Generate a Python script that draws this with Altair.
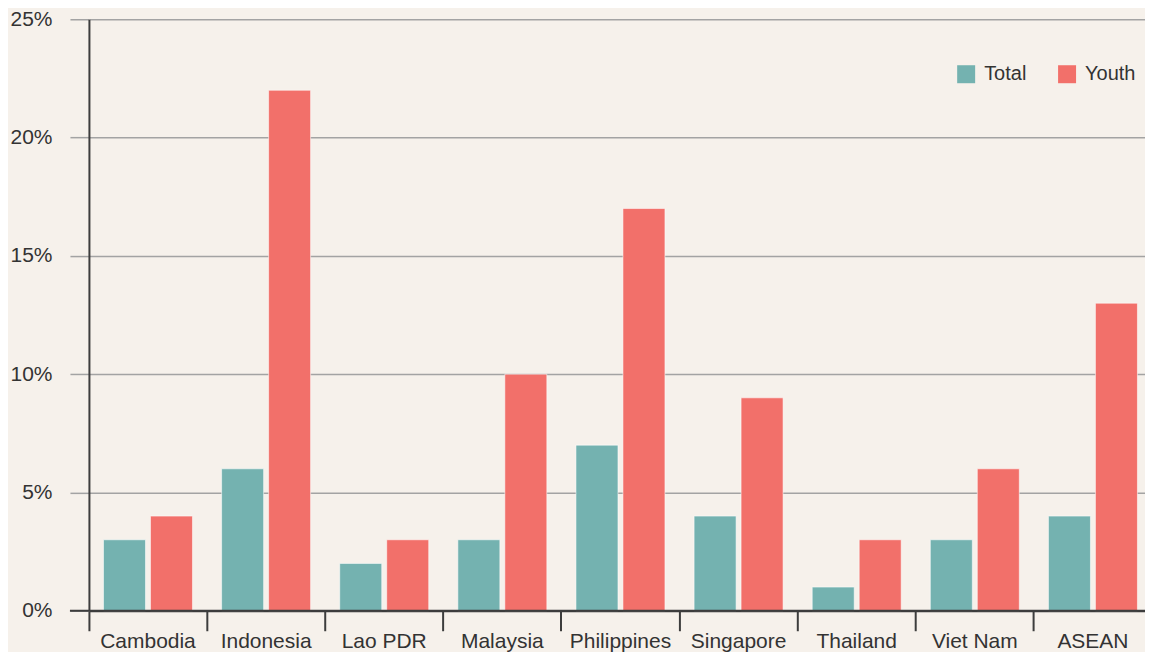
import altair as alt
import pandas as pd

countries = ["Cambodia", "Indonesia", "Lao PDR", "Malaysia", "Philippines",
             "Singapore", "Thailand", "Viet Nam", "ASEAN"]
total = [3, 6, 2, 3, 7, 4, 1, 3, 4]
youth = [4, 22, 3, 10, 17, 9, 3, 6, 13]
series = ["Total", "Youth"]
colors = ["#74b2b0", "#f2706a"]
y_ticks = [0, 5, 10, 15, 20, 25]

rows = []
for c, t, y in zip(countries, total, youth):
    rows.append({"country": c, "series": "Total", "value": t})
    rows.append({"country": c, "series": "Youth", "value": y})
df = pd.DataFrame(rows)

W, H = 1064, 592
FONT = "Liberation Sans"
FS = 21

bars = alt.Chart(df).mark_bar(
    stroke="#ffffff", strokeWidth=1, strokeOpacity=0.55
).encode(
    x=alt.X("country:N", sort=countries, title=None,
            scale=alt.Scale(paddingInner=0, paddingOuter=0),
            axis=alt.Axis(bandPosition=0, labelAngle=0, labelFontSize=FS,
                          labelColor="#333333", labelFont=FONT,
                          domainColor="#3d3d3d", domainWidth=2,
                          tickColor="#3d3d3d", tickWidth=2, tickSize=20,
                          labelPadding=0, grid=False)),
    xOffset=alt.XOffset("series:N", sort=series,
                        scale=alt.Scale(paddingInner=0.106, paddingOuter=0.31)),
    y=alt.Y("value:Q", title=None,
            scale=alt.Scale(domain=[0, 25], nice=False),
            axis=alt.Axis(values=y_ticks, labelExpr="datum.value + '%'",
                          labelFontSize=FS, labelColor="#333333", labelFont=FONT,
                          domainColor="#3d3d3d", domainWidth=2,
                          tickColor="#a3a3a3", tickWidth=1.5, tickSize=19,
                          labelPadding=18, gridColor="#a3a3a3", gridWidth=1.5)),
    color=alt.Color("series:N", sort=series,
                    scale=alt.Scale(domain=series, range=colors),
                    legend=alt.Legend(title=None, orient="none", direction="horizontal",
                                      legendX=868, legendY=45,
                                      symbolType="square", symbolSize=324,
                                      symbolStrokeWidth=0, symbolOpacity=1,
                                      labelFontSize=20, labelFont=FONT,
                                      labelColor="#333333", labelOffset=8,
                                      columnPadding=30)),
)

zero = alt.Chart(pd.DataFrame({"v": [0]})).mark_rule(
    color="#3d3d3d", strokeWidth=2
).encode(y=alt.Y("v:Q"), x=alt.value(-19), x2=alt.value(W))

chart = alt.layer(bars, zero).properties(
    width=W, height=H, background="#f6f1eb",
    padding={"left": 1, "top": 0, "right": -8, "bottom": 0}
).configure_view(stroke=None)

chart.save("out.html", embed_options={"renderer": "svg", "actions": False})
